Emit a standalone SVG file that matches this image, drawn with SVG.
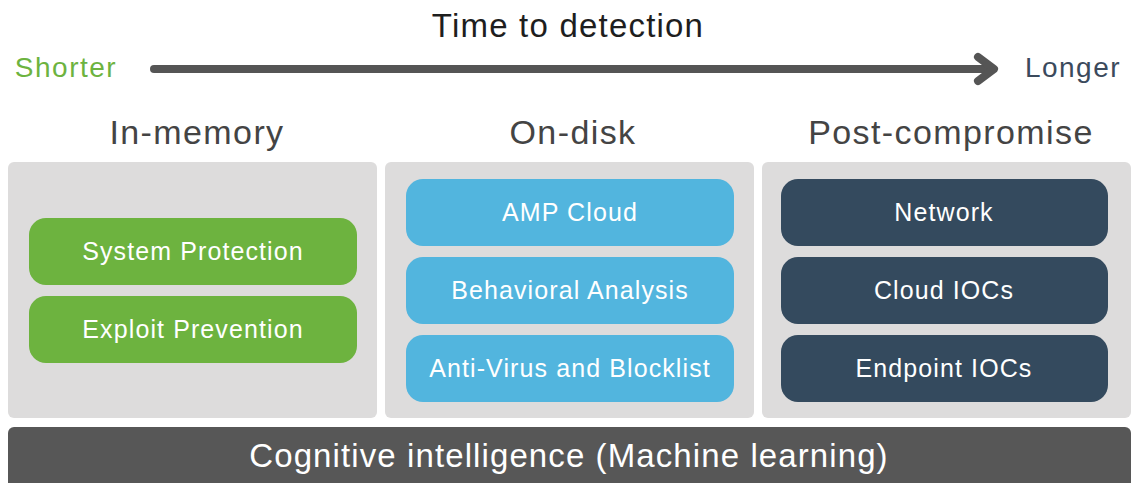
<svg xmlns="http://www.w3.org/2000/svg" width="1133" height="483" viewBox="0 0 1133 483">
<style>
text{font-family:"Liberation Sans",Arial,sans-serif;text-anchor:middle}
.title{font-size:33px;fill:#1e1e1e;letter-spacing:1.2px}
.end{font-size:28px;letter-spacing:1.5px}
.head{font-size:34px;fill:#444;letter-spacing:1.4px}
.panel{fill:#dddcdc}
.box{font-size:25px;fill:#fff;letter-spacing:1.1px}
.g{fill:#6db33f}
.b{fill:#52b5de}
.n{fill:#344a5e}
.bar{fill:#575757}
.bartext{font-size:33px;fill:#fff;letter-spacing:1.1px}
.arrow{stroke:#555;stroke-width:8;stroke-linecap:round;stroke-linejoin:round;fill:none}
</style>
<rect width="1133" height="483" fill="#fff"/>
<g id="header">
<text class="title" x="568" y="37">Time to detection</text>
<text class="end" x="66" y="77" fill="#6db33f">Shorter</text>
<text class="end" x="1073" y="77" fill="#3b4a5c">Longer</text>
</g>
<g id="connectors">
<path class="arrow" d="M154 69 H992"/>
<path class="arrow" d="M978 57 L994 69 L978 81"/>
</g>
<g id="in-memory">
<text class="head" x="197" y="144">In-memory</text>
<rect class="panel" x="8" y="162" width="369" height="256" rx="6"/>
<g id="system-protection"><rect class="g" x="29" y="218" width="328" height="67" rx="17"/><text class="box" x="193" y="260">System Protection</text></g>
<g id="exploit-prevention"><rect class="g" x="29" y="296" width="328" height="67" rx="17"/><text class="box" x="193" y="338">Exploit Prevention</text></g>
</g>
<g id="on-disk">
<text class="head" x="573" y="144">On-disk</text>
<rect class="panel" x="385" y="162" width="369" height="256" rx="6"/>
<g id="amp-cloud"><rect class="b" x="406" y="179" width="328" height="67" rx="17"/><text class="box" x="570" y="221">AMP Cloud</text></g>
<g id="behavioral-analysis"><rect class="b" x="406" y="257" width="328" height="67" rx="17"/><text class="box" x="570" y="299">Behavioral Analysis</text></g>
<g id="anti-virus"><rect class="b" x="406" y="335" width="328" height="67" rx="17"/><text class="box" x="570" y="377">Anti-Virus and Blocklist</text></g>
</g>
<g id="post-compromise">
<text class="head" x="951" y="144">Post-compromise</text>
<rect class="panel" x="762" y="162" width="369" height="256" rx="6"/>
<g id="network"><rect class="n" x="781" y="179" width="327" height="67" rx="17"/><text class="box" x="944" y="221">Network</text></g>
<g id="cloud-iocs"><rect class="n" x="781" y="257" width="327" height="67" rx="17"/><text class="box" x="944" y="299">Cloud IOCs</text></g>
<g id="endpoint-iocs"><rect class="n" x="781" y="335" width="327" height="67" rx="17"/><text class="box" x="944" y="377">Endpoint IOCs</text></g>
</g>
<g id="cognitive">
<rect class="bar" x="8" y="427" width="1123" height="70" rx="6"/>
<text class="bartext" x="569" y="467">Cognitive intelligence (Machine learning)</text>
</g>
</svg>
